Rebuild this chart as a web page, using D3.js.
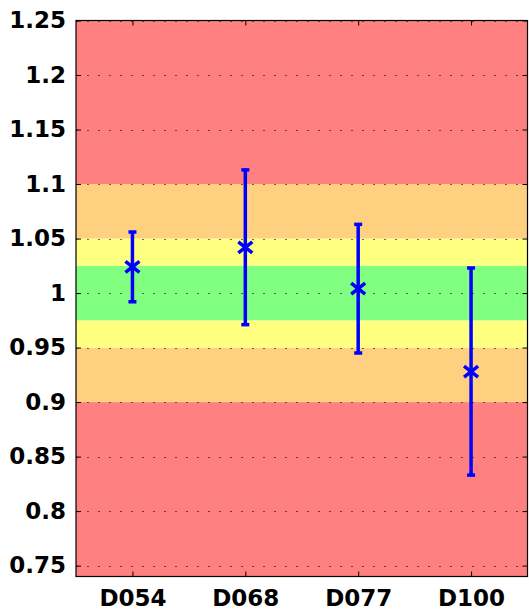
<!DOCTYPE html>
<html><head><meta charset="utf-8">
<script src="https://cdn.jsdelivr.net/npm/d3@7"></script>
<style>body{margin:0;background:#fff}</style>
</head><body>
<script>
const categories = ["D054","D068","D077","D100"];
const centers = [1.024, 1.042, 1.004, 0.928];
const upper = [1.056, 1.113, 1.063, 1.023];
const lower = [0.992, 0.971, 0.945, 0.833];
const yTicks = [0.75,0.8,0.85,0.9,0.95,1,1.05,1.1,1.15,1.2,1.25];
const bandEdges = [0.74,0.9,0.95,0.975,1.025,1.05,1.1,1.25];
const bandColors = ["#FF8080","#FFD080","#FFFF80","#80FF80","#FFFF80","#FFD080","#FF8080"];

const W=529,H=616, L=76, R=527.5, T=20.5, B=576.5;
const svg=d3.select("body").append("svg").attr("width",W).attr("height",H);
const x=d3.scaleLinear().domain([0.5,4.5]).range([L,R]);
const y=d3.scaleLinear().domain([0.74,1.25]).range([B,T]);

// bands
for(let i=0;i<bandColors.length;i++){
  svg.append("rect").attr("x",L).attr("width",R-L)
    .attr("y",y(bandEdges[i+1])).attr("height",y(bandEdges[i])-y(bandEdges[i+1]))
    .attr("fill",bandColors[i]);
}
// grid
svg.append("g").selectAll("line").data(yTicks).join("line")
  .attr("x1",L).attr("x2",R).attr("y1",d=>Math.round(y(d))+0.5).attr("y2",d=>Math.round(y(d))+0.5)
  .attr("stroke","rgba(0,0,0,0.55)").attr("stroke-dasharray","2,9").attr("stroke-width",1);

// axes
const font = "'DejaVu Sans', sans-serif";
const ya=svg.append("g").attr("transform",`translate(${L},0)`)
  .call(d3.axisLeft(y).tickValues(yTicks).tickFormat(d=>String(+d.toFixed(2))).tickSizeInner(-5).tickSizeOuter(0).tickPadding(10));
const yr=svg.append("g").attr("transform",`translate(${R},0)`)
  .call(d3.axisRight(y).tickValues(yTicks).tickFormat("").tickSizeInner(-5).tickSizeOuter(0));
const xa=svg.append("g").attr("transform",`translate(0,${B})`)
  .call(d3.axisBottom(x).tickValues([1,2,3,4]).tickFormat((d,i)=>categories[i]).tickSizeInner(-5).tickSizeOuter(0).tickPadding(13.5));
const xt=svg.append("g").attr("transform",`translate(0,${T})`)
  .call(d3.axisTop(x).tickValues([1,2,3,4]).tickFormat("").tickSizeInner(-5).tickSizeOuter(0));
[ya,yr,xa,xt].forEach(g=>{g.select(".domain").remove(); g.selectAll("line").attr("stroke","#000");});
svg.selectAll("text").attr("font-family",font).attr("font-size",23).attr("font-weight","bold").attr("fill","#000");
svg.append("rect").attr("x",L).attr("y",T).attr("width",R-L).attr("height",B-T)
  .attr("fill","none").attr("stroke","#000").attr("stroke-width",1.2);

// error bars
const g=svg.append("g");
categories.forEach((c,i)=>{
  const cx=x(i+1);
  g.append("line").attr("x1",cx).attr("x2",cx).attr("y1",y(upper[i])).attr("y2",y(lower[i]))
    .attr("stroke","#0000FF").attr("stroke-width",3.5);
  [upper[i],lower[i]].forEach(v=>g.append("line").attr("x1",cx-4).attr("x2",cx+4)
    .attr("y1",y(v)).attr("y2",y(v)).attr("stroke","#0000FF").attr("stroke-width",3.5));
  const cy=y(centers[i]), sx=7, sy=5.5;
  g.append("path").attr("d",`M${cx-sx},${cy-sy}L${cx+sx},${cy+sy}M${cx-sx},${cy+sy}L${cx+sx},${cy-sy}`)
    .attr("stroke","#0000FF").attr("stroke-width",3.5);
});
</script>
</body></html>
